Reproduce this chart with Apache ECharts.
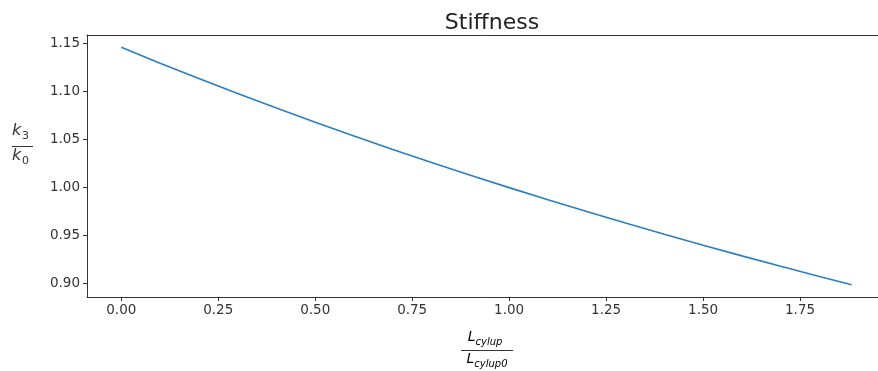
<!DOCTYPE html>
<html>
<head>
<meta charset="utf-8">
<script src="https://cdn.jsdelivr.net/npm/echarts@6/dist/echarts.min.js"></script>
<style>
html,body{margin:0;padding:0;background:#fff;}
#chart{width:878px;height:371px;}
</style>
</head>
<body>
<div id="chart"></div>
<script>
// Data
const lengthRatio = [0, 0.1, 0.2, 0.3, 0.4, 0.5, 0.6, 0.7, 0.8, 0.9, 1.0, 1.1, 1.2, 1.3, 1.4, 1.5, 1.6, 1.7, 1.8, 1.883];
const stiffnessRatio = [1.146, 1.1295, 1.1135, 1.0979, 1.0828, 1.068, 1.0537, 1.0397, 1.0261, 1.0129, 1.0, 0.9874, 0.9752, 0.9632, 0.9515, 0.9401, 0.929, 0.9181, 0.9075, 0.899];
const xTicks = [0, 0.25, 0.5, 0.75, 1.0, 1.25, 1.5, 1.75];
const yTicks = [0.90, 0.95, 1.00, 1.05, 1.10, 1.15];
const titleText = 'Stiffness';

const chart = echarts.init(document.getElementById('chart'));
const font = 'DejaVu Sans';
const pts = lengthRatio.map((x, i) => [x, stiffnessRatio[i]]);
const axisColor = '#333';
const textColor = '#333';

const subRich = {
  a: {fontFamily: font, fontStyle: 'italic', fontSize: 14, color: textColor, lineHeight: 18, verticalAlign: 'bottom'},
  b: {fontFamily: font, fontStyle: 'italic', fontSize: 10, color: textColor, lineHeight: 18, verticalAlign: 'bottom', padding: [0,0,-3,0]}
};

chart.setOption({
  animation: false,
  backgroundColor: '#fff',
  title: {
    text: titleText,
    left: 487, top: 7, textAlign: 'center',
    textStyle: {fontFamily: font, fontSize: 22, fontWeight: 'normal', color: '#222'}
  },
  grid: {
    left: 87, top: 35, right: 0, bottom: 74,
    outerBoundsMode: 'none', containLabel: false,
    show: false
  },
  xAxis: [{
    type: 'value', min: -0.0884, max: 1.951, position: 'bottom',
    splitLine: {show: false},
    axisLine: {show: true, onZero: false, lineStyle: {color: axisColor, width: 1}},
    axisTick: {show: true, customValues: xTicks, length: 4, lineStyle: {color: axisColor}},
    axisLabel: {customValues: xTicks, fontFamily: font, fontSize: 13.5, color: textColor, margin: 6,
      formatter: v => v.toFixed(2)}
  }, {
    type: 'value', min: -0.0884, max: 1.951, position: 'top',
    splitLine: {show: false},
    axisLine: {show: true, onZero: false, lineStyle: {color: axisColor, width: 1}},
    axisTick: {show: false}, axisLabel: {show: false}
  }],
  yAxis: {
    type: 'value', min: 0.8862, max: 1.1588,
    splitLine: {show: false},
    axisLine: {show: true, onZero: false, lineStyle: {color: axisColor, width: 1}},
    axisTick: {show: true, customValues: yTicks, length: 4, lineStyle: {color: axisColor}},
    axisLabel: {customValues: yTicks, fontFamily: font, fontSize: 13.5, color: textColor, margin: 7,
      formatter: v => v.toFixed(2)}
  },
  graphic: [
    {type: 'text', left: 12, top: 123, style: {text: 'k', font: 'italic 16px "DejaVu Sans"', fill: textColor}},
    {type: 'text', left: 22, top: 131, style: {text: '3', font: '11px "DejaVu Sans"', fill: textColor}},
    {type: 'line', shape: {x1: 12, y1: 146.5, x2: 33, y2: 146.5}, style: {stroke: textColor, lineWidth: 1}},
    {type: 'text', left: 12, top: 148, style: {text: 'k', font: 'italic 16px "DejaVu Sans"', fill: textColor}},
    {type: 'text', left: 22, top: 156, style: {text: '0', font: '11px "DejaVu Sans"', fill: textColor}},
    {type: 'text', x: 485, y: 335, style: {text: '{a|L}{b|cylup}', align: 'center', verticalAlign: 'middle', rich: subRich}},
    {type: 'line', shape: {x1: 461, y1: 350.5, x2: 513, y2: 350.5}, style: {stroke: textColor, lineWidth: 1}},
    {type: 'text', x: 487, y: 357, style: {text: '{a|L}{b|cylup0}', align: 'center', verticalAlign: 'middle', rich: subRich}}
  ],
  series: [{
    type: 'line', data: pts, showSymbol: false, smooth: false,
    xAxisIndex: 0,
    lineStyle: {color: '#2a7fc0', width: 1.6}
  }]
});
</script>
</body>
</html>
